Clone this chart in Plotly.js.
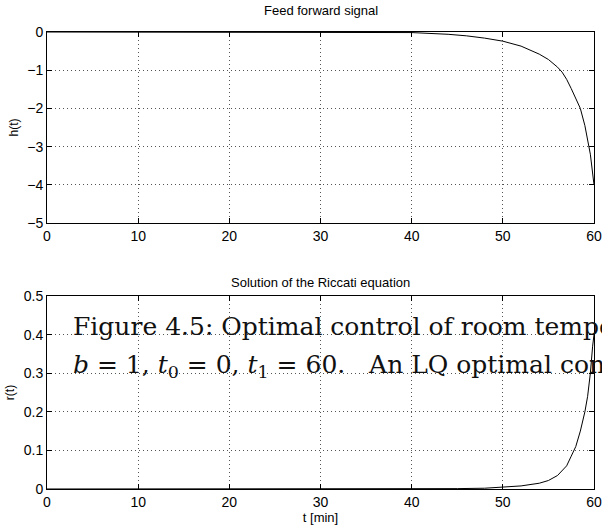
<!DOCTYPE html>
<html>
<head>
<meta charset="utf-8">
<script src="https://cdn.plot.ly/plotly-3.0.1.min.js"></script>
<style>html,body{margin:0;padding:0;background:#fff;}#chart{width:602px;height:531px;}</style>
</head>
<body>
<div id="chart"></div>
<script>
// Feed forward signal h(t)
const tH = [0, 10, 20, 30, 35, 40, 44, 46, 48, 50, 52, 53, 54, 55, 56, 56.5, 57, 57.5, 58, 58.5, 59, 59.3, 59.6, 60];
const hVals = [0, 0, -0.001, -0.003, -0.006, -0.015, -0.06, -0.1, -0.16, -0.24, -0.37, -0.47, -0.58, -0.72, -0.92, -1.05, -1.24, -1.48, -1.72, -2.0, -2.45, -2.8, -3.2, -4.0];
// Riccati solution r(t)
const tR = [0, 10, 20, 30, 40, 45, 48, 50, 52, 54, 55, 56, 57, 57.5, 58, 58.5, 59, 59.3, 59.6, 59.85, 60];
const rVals = [0, 0, 0, 0, 0.0003, 0.001, 0.002, 0.0045, 0.008, 0.015, 0.022, 0.035, 0.06, 0.085, 0.11, 0.15, 0.2, 0.24, 0.3, 0.37, 0.4];

const xTicks = [0, 10, 20, 30, 40, 50, 60];
const hTicks = [-5, -4, -3, -2, -1, 0];
const rTicks = [0, 0.1, 0.2, 0.3, 0.4, 0.5];
const rTickText = ['0', '0.1', '0.2', '0.3', '0.4', '0.5'];

const titles = ['Feed forward signal', 'Solution of the Riccati equation'];
const overlayLines = [
  'Figure 4.5: Optimal control of room tempe',
  '<i>b</i> = 1, <i>t</i><sub>0</sub> = 0, <i>t</i><sub>1</sub> = 60.\u00a0\u00a0\u00a0An LQ optimal con'
];

const sans = 'Liberation Sans, Arial, sans-serif';
const axFont = {family: sans, size: 14, color: '#000'};
const common = {
  showline: true, linecolor: '#000', linewidth: 1, mirror: 'ticks',
  ticks: 'inside', ticklen: 5, tickcolor: '#000',
  showgrid: true, gridcolor: '#555', griddash: '1px,3px', gridwidth: 1,
  zeroline: false, tickfont: axFont
};

const traces = [
  {x: tH, y: hVals, type: 'scatter', mode: 'lines', line: {color: '#000', width: 1}, xaxis: 'x', yaxis: 'y', hoverinfo: 'skip'},
  {x: tR, y: rVals, type: 'scatter', mode: 'lines', line: {color: '#000', width: 1}, xaxis: 'x2', yaxis: 'y2', hoverinfo: 'skip'}
];

const layout = {
  width: 602, height: 531,
  margin: {l: 47, r: 8, t: 32, b: 42},
  paper_bgcolor: '#fff', plot_bgcolor: '#fff',
  showlegend: false,
  font: axFont,
  xaxis: Object.assign({}, common, {domain: [0, 1], range: [0, 60], tickvals: xTicks, anchor: 'y'}),
  yaxis: Object.assign({}, common, {domain: [0.582, 1], range: [-5, 0], tickvals: hTicks, anchor: 'x',
    title: {text: 'h(t)', font: {family: sans, size: 12}, standoff: 6}}),
  xaxis2: Object.assign({}, common, {domain: [0, 1], range: [0, 60], tickvals: xTicks, anchor: 'y2',
    title: {text: 't [min]', font: {family: sans, size: 13}, standoff: 0}}),
  yaxis2: Object.assign({}, common, {domain: [0, 0.4223], range: [0, 0.5], tickvals: rTicks, ticktext: rTickText, anchor: 'x2',
    title: {text: 'r(t)', font: {family: sans, size: 12}, standoff: 6}}),
  annotations: [
    {text: titles[0], xref: 'paper', yref: 'paper', x: 0.5, y: 1, yshift: 22, xanchor: 'center', yanchor: 'middle', showarrow: false,
     font: {family: sans, size: 13, color: '#000'}},
    {text: titles[1], xref: 'paper', yref: 'paper', x: 0.5, y: 0.4223, yshift: 14, xanchor: 'center', yanchor: 'middle', showarrow: false,
     font: {family: sans, size: 13, color: '#000'}},
    {text: overlayLines[0], xref: 'paper', yref: 'paper', x: 0, xshift: 24, y: 0.4223, yshift: -30, xanchor: 'left', yanchor: 'middle', showarrow: false,
     font: {family: 'DejaVu Serif, Liberation Serif, serif', size: 25, color: '#111'}},
    {text: overlayLines[1], xref: 'paper', yref: 'paper', x: 0, xshift: 24, y: 0.4223, yshift: -70, xanchor: 'left', yanchor: 'middle', showarrow: false,
     font: {family: 'DejaVu Serif, Liberation Serif, serif', size: 25, color: '#111'}}
  ]
};

Plotly.newPlot('chart', traces, layout, {displayModeBar: false, staticPlot: true});
</script>
</body>
</html>
